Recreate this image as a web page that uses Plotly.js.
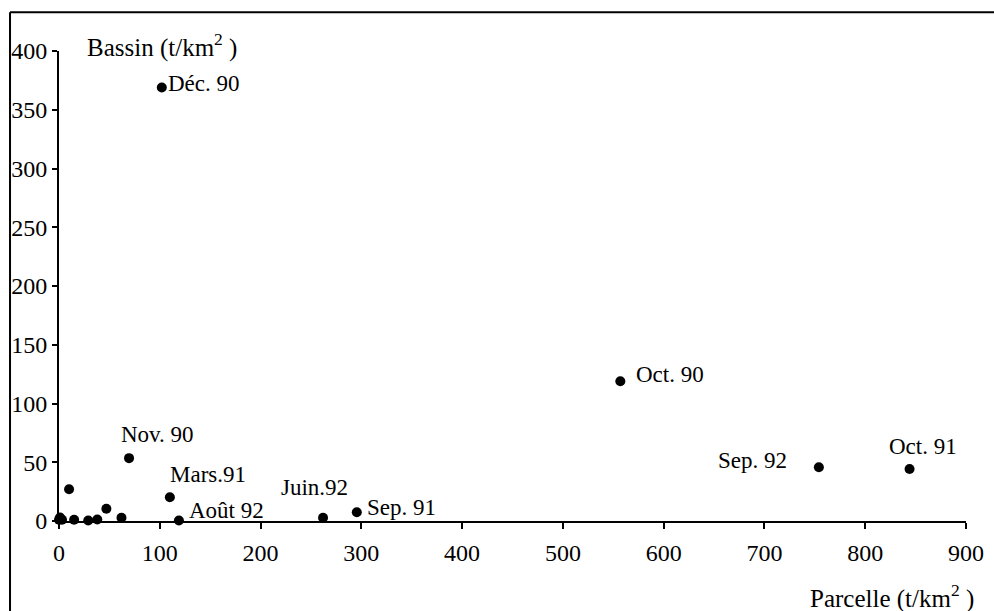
<!DOCTYPE html>
<html>
<head>
<meta charset="utf-8">
<script src="https://cdn.plot.ly/plotly-3.0.1.min.js"></script>
</head>
<body style="margin:0;background:#fff">
<div id="chart" style="width:994px;height:611px"></div>
<script>
// Data: Parcelle (x) vs Bassin (y), t/km²
const parcelle = [0, 1, 3, 10, 15, 29, 38, 47, 62, 69.5, 110, 119, 262, 295.5, 102, 557, 754, 844];
const bassin   = [1, 3, 1, 27, 1, 0.4, 1.3, 10.4, 2.7, 53.5, 20.2, 0.4, 2.7, 7.5, 369, 119, 45.7, 44.3];
const pointLabels = ["", "", "", "", "", "", "", "", "", "Nov. 90", "Mars.91", "Août 92", "Juin.92", "Sep. 91", "Déc. 90", "Oct. 90", "Sep. 92", "Oct. 91"];
const xTickVals = [0, 100, 200, 300, 400, 500, 600, 700, 800, 900];
const yTickVals = [0, 50, 100, 150, 200, 250, 300, 350, 400];
const xTitle = "Parcelle (t/km<sup>2</sup> )";
const yTitle = "Bassin (t/km<sup>2</sup> )";

// label placement (pixel offsets from the point)
const labelPlacement = {
  "Déc. 90": {anchor: "left", dx: 4, dy: 4},
  "Oct. 90": {anchor: "left", dx: 14, dy: 7},
  "Oct. 91": {anchor: "center", dx: 13, dy: 22},
  "Sep. 92": {anchor: "right", dx: -30, dy: 7},
  "Nov. 90": {anchor: "left", dx: -10, dy: 24},
  "Mars.91": {anchor: "left", dx: -2, dy: 23},
  "Août 92": {anchor: "left", dx: 8, dy: 10},
  "Juin.92": {anchor: "left", dx: -44, dy: 30},
  "Sep. 91": {anchor: "left", dx: 8, dy: 5}
};

const FONT = "Liberation Serif";
const annotations = [];
pointLabels.forEach((lab, i) => {
  if (!lab) return;
  const p = labelPlacement[lab];
  annotations.push({
    x: parcelle[i], y: bassin[i], xref: "x", yref: "y",
    text: lab, showarrow: false, xanchor: p.anchor, yanchor: "middle",
    xshift: p.dx, yshift: p.dy,
    font: {family: FONT, size: 23, color: "#000"}
  });
});
annotations.push({
  xref: "paper", yref: "paper", x: 0.032, y: 1.0, xanchor: "left", yanchor: "middle",
  xshift: -3, yshift: 6, text: yTitle, showarrow: false, font: {family: FONT, size: 25, color: "#000"}
});
annotations.push({
  xref: "paper", yref: "paper", x: 1.0, y: 0, xanchor: "right", yanchor: "middle",
  xshift: 10, yshift: -75, text: xTitle, showarrow: false, font: {family: FONT, size: 25, color: "#000"}
});

const trace = {
  x: parcelle, y: bassin, type: "scatter", mode: "markers",
  marker: {color: "#000", size: 10},
  cliponaxis: false, hoverinfo: "skip"
};

const layout = {
  width: 994, height: 611,
  margin: {l: 59, r: 28, t: 51, b: 90},
  paper_bgcolor: "#fff", plot_bgcolor: "#fff",
  showlegend: false,
  font: {family: FONT, size: 24, color: "#000"},
  xaxis: {
    range: [0, 900], tickvals: xTickVals, ticktext: xTickVals.map(String),
    showgrid: false, zeroline: false, showline: true, linecolor: "#000", linewidth: 2,
    ticks: "outside", ticklen: 6, tickwidth: 2, tickcolor: "#000", ticklabelstandoff: 3,
    tickfont: {family: FONT, size: 24, color: "#000"}, fixedrange: true
  },
  yaxis: {
    range: [0, 400], tickvals: yTickVals, ticktext: yTickVals.map(String),
    showgrid: false, zeroline: false, showline: true, linecolor: "#000", linewidth: 2,
    ticks: "outside", ticklen: 5, tickwidth: 2, tickcolor: "#000", ticklabelstandoff: 0,
    tickfont: {family: FONT, size: 24, color: "#000"}, fixedrange: true
  },
  annotations: annotations,
  shapes: [
    {type: "line", xref: "paper", yref: "paper", x0: -0.054, x1: 1.04, y0: 1.0822, y1: 1.0822,
     line: {color: "#000", width: 2}},
    {type: "line", xref: "paper", yref: "paper", x0: -0.054, x1: -0.054, y0: 1.0822, y1: -0.2,
     line: {color: "#000", width: 2}}
  ]
};

Plotly.newPlot("chart", [trace], layout, {displayModeBar: false});
</script>
</body>
</html>
